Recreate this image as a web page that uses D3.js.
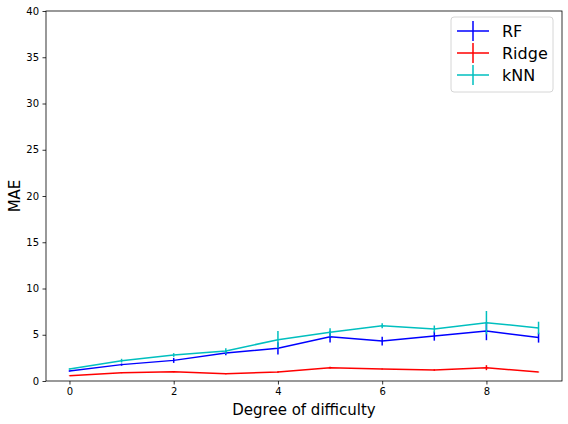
<!DOCTYPE html>
<html>
<head>
<meta charset="utf-8">
<script src="https://cdn.jsdelivr.net/npm/d3@7"></script>
<style>
  body { margin: 0; background: white; }
  text { font-family: "DejaVu Sans", sans-serif; }
</style>
</head>
<body>
<script>
let xs = [0, 1, 2, 3, 4, 5, 6, 7, 8, 9]
let rfMean = [1.08, 1.77, 2.23, 3.03, 3.53, 4.79, 4.32, 4.86, 5.40, 4.69]
let rfErr = [0.08, 0.12, 0.27, 0.25, 0.67, 0.63, 0.47, 0.50, 0.99, 0.54]
let ridgeMean = [0.57, 0.90, 1.00, 0.79, 0.97, 1.44, 1.30, 1.19, 1.44, 0.97]
let ridgeErr = [0.02, 0.06, 0.05, 0.05, 0.08, 0.10, 0.05, 0.08, 0.27, 0.03]
let knnMean = [1.30, 2.20, 2.81, 3.24, 4.47, 5.26, 5.98, 5.62, 6.31, 5.73]
let knnErr = [0.08, 0.20, 0.20, 0.29, 0.94, 0.45, 0.27, 0.38, 1.26, 0.68]
let seriesNames = ["RF", "Ridge", "kNN"]
let seriesColors = ["#0000ff", "#ff0000", "#00bfbf"]
let xTicks = [0, 2, 4, 6, 8]
let yTicks = [0, 5, 10, 15, 20, 25, 30, 35, 40]

let w = 568
let h = 424
let padLeft = 46, padTop = 11, padRight = 562, padBottom = 381

let svg = d3.select("body").append("svg")
  .attr("width", w)
  .attr("height", h)

let x = d3.scaleLinear().domain([-0.45, 9.45]).range([padLeft, padRight])
let y = d3.scaleLinear().domain([0, 40]).range([padBottom, padTop])

let series = [
  {name: seriesNames[0], color: seriesColors[0], mean: rfMean, err: rfErr},
  {name: seriesNames[1], color: seriesColors[1], mean: ridgeMean, err: ridgeErr},
  {name: seriesNames[2], color: seriesColors[2], mean: knnMean, err: knnErr}
]

let line = d3.line()
  .x((d) => x(d[0]))
  .y((d) => y(d[1]))

series.forEach((s) => {
  let g = svg.append("g")
  let pts = xs.map((v, i) => [v, s.mean[i], s.err[i]])
  g.append("path")
    .attr("d", line(pts))
    .attr("fill", "none")
    .attr("stroke", s.color)
    .attr("stroke-width", 1.5)
  g.selectAll("line")
    .data(pts)
    .enter()
    .append("line")
    .attr("x1", (d) => x(d[0]))
    .attr("x2", (d) => x(d[0]))
    .attr("y1", (d) => y(d[1] - d[2]))
    .attr("y2", (d) => y(d[1] + d[2]))
    .attr("stroke", s.color)
    .attr("stroke-width", 1.5)
})

// axes
let xAxis = svg.append("g")
  .attr("transform", "translate(0," + padBottom + ")")
  .call(d3.axisBottom(x).tickValues(xTicks).tickSize(3.5).tickPadding(3.5).tickFormat(d3.format("d")))
let yAxis = svg.append("g")
  .attr("transform", "translate(" + padLeft + ",0)")
  .call(d3.axisLeft(y).tickValues(yTicks).tickSize(3.5).tickPadding(3.5).tickFormat(d3.format("d")))

;[xAxis, yAxis].forEach((a) => {
  a.select(".domain").remove()
  a.selectAll("text").attr("font-size", 10).attr("font-family", "DejaVu Sans").attr("fill", "#000")
  a.selectAll("line").attr("stroke", "#000").attr("stroke-width", 0.8)
})

svg.append("rect")
  .attr("x", padLeft)
  .attr("y", padTop)
  .attr("width", padRight - padLeft)
  .attr("height", padBottom - padTop)
  .attr("fill", "none")
  .attr("stroke", "#000")
  .attr("stroke-width", 0.8)

svg.append("text")
  .text("Degree of difficulty")
  .attr("x", (padLeft + padRight) / 2)
  .attr("y", 415)
  .attr("text-anchor", "middle")
  .attr("font-size", 15)

svg.append("text")
  .text("MAE")
  .attr("transform", "translate(20," + ((padTop + padBottom) / 2) + ") rotate(-90)")
  .attr("text-anchor", "middle")
  .attr("font-size", 15)

// legend
let legend = svg.append("g")
legend.append("rect")
  .attr("x", 451)
  .attr("y", 17)
  .attr("width", 102)
  .attr("height", 75)
  .attr("rx", 3)
  .attr("fill", "white")
  .attr("fill-opacity", 0.8)
  .attr("stroke", "#ccc")
  .attr("stroke-width", 0.8)

series.forEach((s, i) => {
  let ly = 31 + i * 22
  legend.append("line")
    .attr("x1", 457).attr("x2", 489)
    .attr("y1", ly).attr("y2", ly)
    .attr("stroke", s.color).attr("stroke-width", 1.5)
  legend.append("line")
    .attr("x1", 473).attr("x2", 473)
    .attr("y1", ly - 10).attr("y2", ly + 10)
    .attr("stroke", s.color).attr("stroke-width", 1.5)
  legend.append("text")
    .text(s.name)
    .attr("x", 502)
    .attr("y", ly + 6)
    .attr("font-size", 16)
})
</script>
</body>
</html>
